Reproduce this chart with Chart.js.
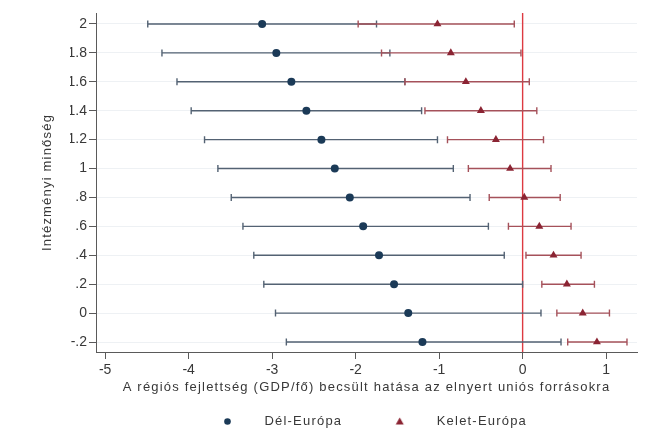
<!DOCTYPE html>
<html><head><meta charset="utf-8">
<script src="https://cdn.jsdelivr.net/npm/chart.js@4/dist/chart.umd.min.js"></script>
<style>html,body{margin:0;padding:0;background:#fff;}canvas{display:block}</style>
</head><body>
<canvas id="c" width="652" height="430"></canvas>
<script>
// ---- data ----
const yLevels   = [2, 1.8, 1.6, 1.4, 1.2, 1, 0.8, 0.6, 0.4, 0.2, 0, -0.2];
const southEst  = [-3.12, -2.95, -2.77, -2.59, -2.41, -2.25, -2.07, -1.91, -1.72, -1.54, -1.37, -1.20];
const southLow  = [-4.49, -4.32, -4.14, -3.97, -3.81, -3.65, -3.49, -3.35, -3.22, -3.10, -2.96, -2.83];
const southHigh = [-1.75, -1.59, -1.41, -1.21, -1.02, -0.83, -0.63, -0.41, -0.22, 0.00, 0.22, 0.46];
const eastEst   = [-1.02, -0.86, -0.68, -0.50, -0.32, -0.15, 0.02, 0.20, 0.37, 0.53, 0.72, 0.89];
const eastLow   = [-1.97, -1.69, -1.41, -1.17, -0.90, -0.65, -0.40, -0.17, 0.04, 0.23, 0.41, 0.54];
const eastHigh  = [-0.10, -0.02, 0.08, 0.17, 0.25, 0.34, 0.45, 0.58, 0.70, 0.86, 1.04, 1.25];
const seriesNames = ['Dél-Európa', 'Kelet-Európa'];
const xTickValues = [-5, -4, -3, -2, -1, 0, 1];
const xTickLabels = ['-5', '-4', '-3', '-2', '-1', '0', '1'];
const yTickValues = [-0.2, 0, 0.2, 0.4, 0.6, 0.8, 1, 1.2, 1.4, 1.6, 1.8, 2];
const yTickLabels = ['-.2', '0', '.2', '.4', '.6', '.8', '1', '1.2', '1.4', '1.6', '1.8', '2'];
const referenceX = [0];
const xTitle = 'A régiós fejlettség (GDP/fő) becsült hatása az elnyert uniós forrásokra';
const yTitle = 'Intézményi minőség';

// ---- styles ----
const FONT = {family: '"Liberation Sans", Arial, sans-serif', size: 13};
const TICKFONT = {family: '"Liberation Sans", Arial, sans-serif', size: 14};
const TXT = '#383838';
const AXIS = '#5a5a5a';
const BLUE_M = '#1b3a57', BLUE_L = '#536273';
const RED_M = '#8b2433', RED_L = '#a5515a';
const SPACING = '1.2px';

function pts(xs){ return xs.map((x,i)=>({x:x, y:yLevels[i]})); }

function legendIcon(style, color){
  const cv = document.createElement('canvas');
  cv.width = 78; cv.height = 13;
  const g = cv.getContext('2d');
  g.fillStyle = color;
  const cx = 47.5, cy = 6.5;
  g.beginPath();
  if (style === 'circle') { g.arc(cx, cy, 3.3, 0, Math.PI*2); }
  else { g.moveTo(cx, cy-4); g.lineTo(cx+4, cy+3); g.lineTo(cx-4, cy+3); g.closePath(); }
  g.fill();
  return cv;
}

// wider text spacing for titles and legend; tick labels (drawn after datasets) use none
const spacingPlugin = {
  id: 'spacing',
  beforeInit(c){ c.ctx.letterSpacing = SPACING; },
  beforeUpdate(c){ c.ctx.letterSpacing = SPACING; },
  beforeLayout(c){ c.ctx.letterSpacing = SPACING; },
  beforeDraw(c){ c.ctx.letterSpacing = SPACING; },
  afterDatasetsDraw(c){ c.ctx.letterSpacing = '0px'; }
};

const ciPlugin = {
  id: 'ci',
  beforeDatasetsDraw(chart){
    const {ctx, chartArea:a, scales:{x, y}} = chart;
    ctx.save();
    referenceX.forEach(v => {
      const px = x.getPixelForValue(v);
      ctx.strokeStyle = '#dd3a41'; ctx.lineWidth = 1.4;
      ctx.beginPath(); ctx.moveTo(px, a.top); ctx.lineTo(px, a.bottom); ctx.stroke();
    });
    chart.data.datasets.forEach(ds => {
      ctx.strokeStyle = ds.ciColor; ctx.lineWidth = 1.4;
      ds.ciLow.forEach((lo, i) => {
        const x1 = x.getPixelForValue(lo), x2 = x.getPixelForValue(ds.ciHigh[i]);
        const py = y.getPixelForValue(yLevels[i]);
        ctx.beginPath();
        ctx.moveTo(x1, py); ctx.lineTo(x2, py);
        ctx.moveTo(x1, py-3.5); ctx.lineTo(x1, py+3.5);
        ctx.moveTo(x2, py-3.5); ctx.lineTo(x2, py+3.5);
        ctx.stroke();
      });
    });
    ctx.restore();
  }
};

new Chart(document.getElementById('c'), {
  type: 'scatter',
  data: {
    datasets: [
      {label: seriesNames[0], data: pts(southEst), ciLow: southLow, ciHigh: southHigh, ciColor: BLUE_L,
       pointStyle: 'circle', pointRadius: 4, backgroundColor: BLUE_M, borderColor: BLUE_M, borderWidth: 0, pointHoverRadius: 4},
      {label: seriesNames[1], data: pts(eastEst), ciLow: eastLow, ciHigh: eastHigh, ciColor: RED_L,
       pointStyle: 'triangle', pointRadius: 4.6, backgroundColor: RED_M, borderColor: RED_M, borderWidth: 0, pointHoverRadius: 4.6}
    ]
  },
  options: {
    responsive: false, animation: false, devicePixelRatio: 1,
    layout: {padding: {left: 70, right: 15, top: 13, bottom: -8}},
    scales: {
      x: {
        type: 'linear', min: -5.11, max: 1.37,
        afterBuildTicks: s => { s.ticks = xTickValues.map(v => ({value: v})); },
        afterFit: s => { s.height = 53; },
        ticks: {z: 1, callback: (v, i) => xTickLabels[i], font: TICKFONT, color: TXT, padding: 3, maxRotation: 0, autoSkip: false},
        grid: {display: true, drawOnChartArea: false, drawTicks: true, tickLength: 7, tickColor: AXIS, tickWidth: 1},
        border: {display: true, color: AXIS, width: 1},
        title: {display: true, text: xTitle, font: FONT, color: TXT, padding: {top: 0, bottom: 10}}
      },
      y: {
        type: 'linear', min: -0.269, max: 2.076,
        afterBuildTicks: s => { s.ticks = yTickValues.map(v => ({value: v})); },
        afterFit: s => { s.width = 26; },
        ticks: {z: 1, callback: (v, i) => yTickLabels[i], font: TICKFONT, color: TXT, padding: 2, autoSkip: false},
        grid: {display: true, drawOnChartArea: true, color: '#eef1f4', drawTicks: true, tickLength: 7, tickColor: AXIS, tickWidth: 1},
        border: {display: true, color: AXIS, width: 1},
        title: {display: true, text: yTitle, font: FONT, color: TXT, padding: {top: -30, bottom: 0}}
      }
    },
    plugins: {
      tooltip: {enabled: false},
      legend: {
        position: 'bottom', align: 'center',
        labels: {
          usePointStyle: true, pointStyleWidth: 78, padding: 10, font: FONT, color: TXT,
          generateLabels: chart => chart.data.datasets.map((ds, i) => ({
            text: ds.label, pointStyle: legendIcon(ds.pointStyle, ds.backgroundColor),
            fillStyle: ds.backgroundColor, strokeStyle: ds.backgroundColor, lineWidth: 0,
            hidden: false, datasetIndex: i, fontColor: TXT
          }))
        }
      }
    }
  },
  plugins: [spacingPlugin, ciPlugin]
});
</script>
</body></html>
